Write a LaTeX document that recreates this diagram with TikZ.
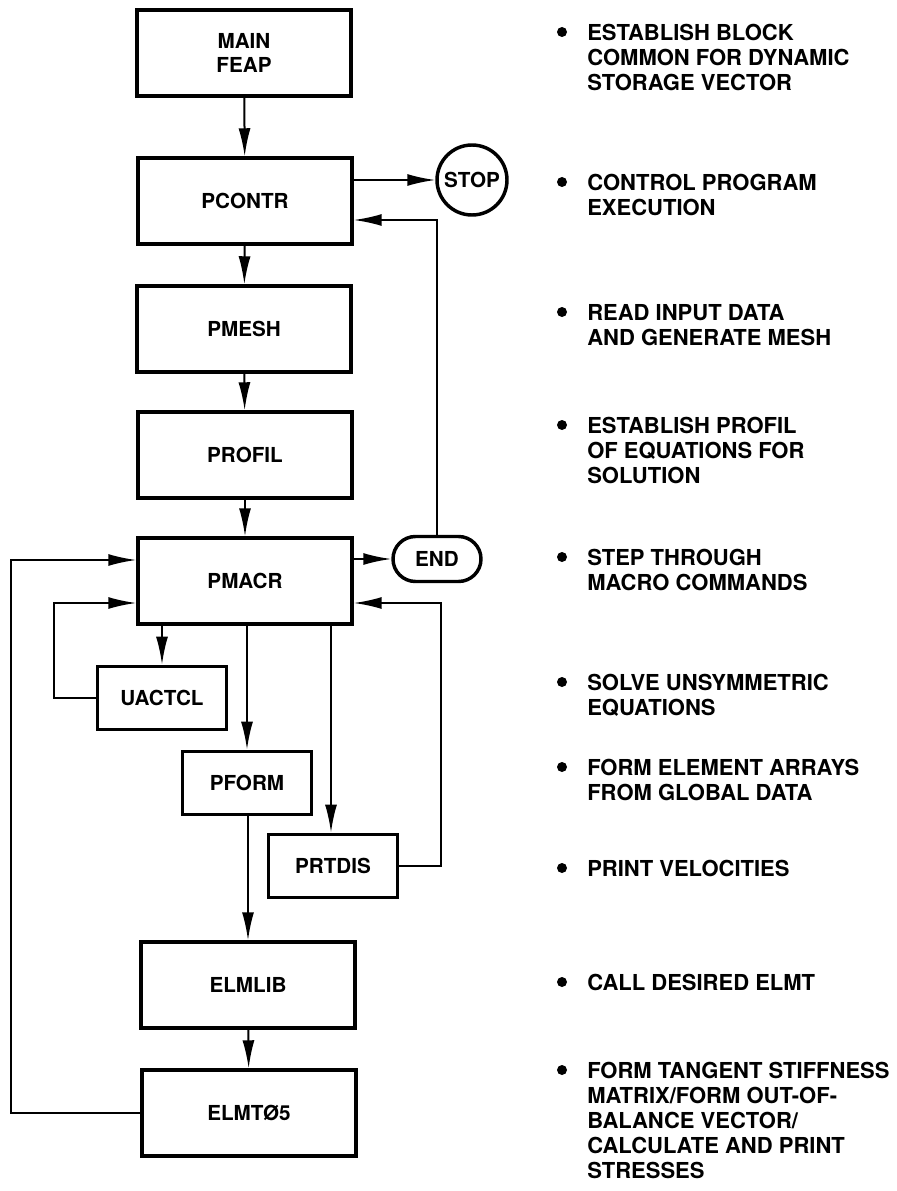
\documentclass[tikz,border=0pt]{standalone}
\usepackage{fontspec}
\newfontfamily\hvfont{TeX Gyre Heros}
\usetikzlibrary{arrows.meta,shapes.misc}

\tikzset{
  lbl/.style={font=\hvfont\bfseries\fontsize{15.5pt}{18.6pt}\selectfont},
  blk/.style={lbl, draw, line width=2.6pt, minimum width=160.5pt, minimum height=64.5pt, inner sep=0pt},
  sblk/.style={blk, minimum width=97pt, minimum height=47.5pt},
  arr/.style={line width=1.5pt, -{Latex[length=21pt,width=9pt]}},
  dot/.style={circle, fill, inner sep=0pt, minimum size=7.5pt},
  desc/.style={font=\hvfont\bfseries\fontsize{16.5pt}{18.75pt}\selectfont, align=left, inner sep=0pt},
}

\begin{document}
\begin{tikzpicture}[x=0.75pt,y=-0.75pt]
\useasboundingbox (0,0) rectangle (896,1191);

% main chain
\node[blk, align=center] (main) at (244,53) {MAIN\\FEAP};
\node[blk] (pcontr) at (245,201) {PCONTR};
\node[blk] (pmesh) at (244,329) {PMESH};
\node[blk] (profil) at (245,455) {PROFIL};
\node[blk] (pmacr) at (245,581) {PMACR};
\node[blk] (elmlib) at (248,985) {ELMLIB};
\node[blk] (elmt) at (249,1113) {ELMTØ5};

% side boxes
\node[sblk] (uactcl) at (162,698) {UACTCL};
\node[sblk] (pform) at (247,783) {PFORM};
\node[sblk] (prtdis) at (333,866) {PRTDIS};
\node[lbl, draw, circle, line width=2.6pt, minimum size=52.5pt, inner sep=0pt] (stop) at (472,180) {STOP};
\node[lbl, draw, rounded rectangle, line width=2.6pt, minimum width=66pt, minimum height=33.75pt, inner sep=0pt] (end) at (437,559) {END};

% arrows
\draw[arr] (main) -- (pcontr);
\draw[arr] (pcontr) -- (pmesh);
\draw[arr] (pmesh) -- (profil);
\draw[arr] (profil) -- (pmacr);
\draw[arr] (stop.west -| pcontr.east) -- (stop.west);
\draw[arr] (end.north) |- ([yshift=-14.25pt]pcontr.east);
\draw[arr] (end.west -| pmacr.east) -- (end.west);
\draw[arr] (pmacr.south -| uactcl.north) -- (uactcl.north);
\draw[arr] (pmacr.south -| pform.north) -- (pform.north);
\draw[arr] ([xshift=-1.5pt]pmacr.south -| prtdis.north) -- ([xshift=-1.5pt]prtdis.north);
\draw[arr] (uactcl.west) -- ++(-42,0) |- ([yshift=-16.5pt]pmacr.west);
\draw[arr] (prtdis.east) -- ++(42,0) |- ([yshift=-16.5pt]pmacr.east);
\draw[arr] (pform.south -| elmlib.north) -- (elmlib.north);
\draw[arr] (elmlib) -- (elmt);
\draw[arr] (elmt.west) -- ++(-129,0) |- ([yshift=15.75pt]pmacr.west);

% descriptions
\foreach \y/\txt [count=\i] in {
  32/{ESTABLISH BLOCK\\COMMON FOR DYNAMIC\\STORAGE VECTOR},
  182/{CONTROL PROGRAM\\EXECUTION},
  312/{READ INPUT DATA\\AND GENERATE MESH},
  425/{ESTABLISH PROFIL\\OF EQUATIONS FOR\\SOLUTION},
  557/{STEP THROUGH\\MACRO COMMANDS},
  682/{SOLVE UNSYMMETRIC\\EQUATIONS},
  767/{FORM ELEMENT ARRAYS\\FROM GLOBAL DATA},
  868/{PRINT VELOCITIES},
  982/{CALL DESIRED ELMT},
  1070/{FORM TANGENT STIFFNESS\\MATRIX/FORM OUT-OF-\\BALANCE VECTOR/\\CALCULATE AND PRINT\\STRESSES}}
{
  \node[dot] (b\i) at (562,\y) {};
  \node[desc, anchor=north west] (d\i) at (587,\y-8) {\txt};
}
\end{tikzpicture}
\end{document}
